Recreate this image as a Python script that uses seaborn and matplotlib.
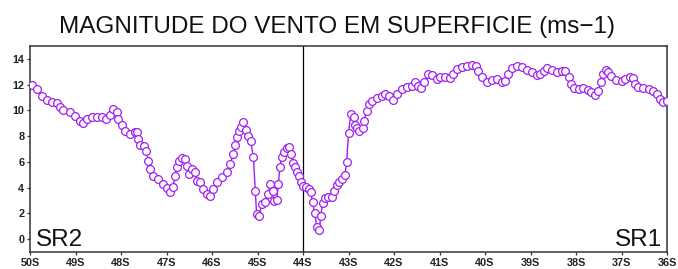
import matplotlib
matplotlib.use("Agg")
import matplotlib.pyplot as plt
from matplotlib import font_manager
import seaborn as sns
import pandas as pd

# ---- data ----
lat = [-49.96, -49.85, -49.74, -49.63, -49.52, -49.41, -49.34, -49.27, -49.12, -49.01,
       -48.90, -48.83, -48.74, -48.64, -48.53, -48.42, -48.33, -48.24, -48.17, -48.09,
       -48.06, -47.98, -47.91, -47.80, -47.69, -47.65, -47.62, -47.58, -47.49, -47.44,
       -47.40, -47.36, -47.29, -47.18, -47.07, -47.00, -46.92, -46.86, -46.81, -46.78,
       -46.72, -46.67, -46.59, -46.56, -46.50, -46.45, -46.37, -46.34, -46.26, -46.19,
       -46.12, -46.04, -45.97, -45.90, -45.79, -45.68, -45.60, -45.53, -45.49, -45.45,
       -45.41, -45.37, -45.31, -45.25, -45.20, -45.15, -45.09, -45.05, -45.02, -44.96,
       -44.91, -44.84, -44.76, -44.73, -44.67, -44.64, -44.58, -44.54, -44.51, -44.47,
       -44.42, -44.36, -44.30, -44.27, -44.22, -44.18, -44.14, -44.09, -44.05, -43.99,
       -43.93, -43.86, -43.83, -43.79, -43.74, -43.70, -43.64, -43.61, -43.57, -43.52,
       -43.44, -43.37, -43.31, -43.26, -43.20, -43.15, -43.08, -43.04, -43.00, -42.95,
       -42.89, -42.86, -42.81, -42.76, -42.69, -42.66, -42.60, -42.56, -42.49, -42.38,
       -42.27, -42.20, -42.12, -42.03, -41.94, -41.83, -41.72, -41.61, -41.54, -41.47,
       -41.41, -41.34, -41.25, -41.17, -41.06, -40.99, -40.88, -40.77, -40.70, -40.62,
       -40.51, -40.40, -40.29, -40.20, -40.15, -40.07, -39.96, -39.85, -39.74, -39.63,
       -39.56, -39.49, -39.41, -39.30, -39.19, -39.08, -38.97, -38.86, -38.79, -38.71,
       -38.64, -38.53, -38.42, -38.31, -38.24, -38.16, -38.11, -38.05, -37.94, -37.84,
       -37.73, -37.66, -37.58, -37.51, -37.46, -37.40, -37.35, -37.29, -37.22, -37.11,
       -37.00, -36.92, -36.81, -36.74, -36.70, -36.63, -36.52, -36.40, -36.30, -36.22,
       -36.15, -36.08, -36.00]

wind = [12.00, 11.66, 11.15, 10.80, 10.68, 10.55, 10.24, 10.03, 9.90, 9.59,
        9.20, 9.00, 9.33, 9.50, 9.46, 9.50, 9.33, 9.64, 10.10, 9.85,
        9.33, 8.87, 8.42, 8.16, 8.30, 8.30, 7.78, 7.31, 7.26, 6.82,
        6.09, 5.44, 4.92, 4.67, 4.28, 3.97, 3.68, 4.07, 4.87, 5.62,
        6.09, 6.30, 6.22, 5.70, 5.05, 5.44, 5.18, 4.53, 4.41, 3.89,
        3.50, 3.32, 3.89, 4.41, 4.80, 5.18, 5.83, 6.60, 7.30, 7.90,
        8.40, 8.70, 9.07, 8.50, 8.04, 7.65, 6.35, 3.76, 1.94, 1.81,
        2.72, 2.85, 3.50, 4.28, 3.76, 2.98, 3.03, 4.28, 5.57, 6.35,
        6.74, 7.05, 7.13, 6.61, 5.91, 5.57, 5.18, 4.87, 4.46, 4.10,
        4.02, 3.89, 3.63, 2.85, 2.02, 0.91, 0.72, 1.81, 2.80, 3.16,
        3.24, 3.29, 3.76, 4.20, 4.46, 4.67, 4.98, 6.01, 8.22, 9.72,
        9.46, 8.87, 8.60, 8.42, 8.60, 9.20, 9.98, 10.50, 10.75, 10.94,
        11.10, 11.27, 11.15, 10.80, 11.27, 11.66, 11.80, 11.92, 12.18, 11.92,
        11.72, 12.18, 12.83, 12.78, 12.44, 12.60, 12.62, 12.50, 12.83, 13.22,
        13.40, 13.48, 13.53, 13.48, 13.09, 12.57, 12.23, 12.39, 12.44, 12.23,
        12.31, 12.83, 13.27, 13.48, 13.35, 13.16, 12.96, 12.75, 12.83, 13.09,
        13.27, 13.14, 13.01, 13.04, 13.09, 12.57, 12.05, 11.72, 11.66, 11.72,
        11.61, 11.41, 11.20, 11.53, 12.18, 12.83, 13.14, 12.96, 12.70, 12.39,
        12.26, 12.44, 12.62, 12.50, 12.05, 11.80, 11.72, 11.66, 11.53, 11.27,
        10.89, 10.63, 10.70]

x_ticks = [-50, -49, -48, -47, -46, -45, -44, -43, -42, -41, -40, -39, -38, -37, -36]
x_labels = ["50S", "49S", "48S", "47S", "46S", "45S", "44S", "43S", "42S", "41S",
            "40S", "39S", "38S", "37S", "36S"]
y_ticks = [0, 2, 4, 6, 8, 10, 12, 14]
title = "MAGNITUDE DO VENTO EM SUPERFICIE (ms\u22121)"
divider_lat = -44
left_label = "SR2"
right_label = "SR1"

# ---- fonts ----
sns.set_style("white")
avail = {f.name for f in font_manager.fontManager.ttflist}
def pick(*names):
    for n in names:
        if n in avail:
            return n
    return "DejaVu Sans"
regular = pick("Liberation Sans", "DejaVu Sans")
plt.rcParams["font.family"] = [regular, "DejaVu Sans"]

color = "#a020f0"

fig = plt.figure(figsize=(6.78, 2.69), dpi=100)
ax = fig.add_axes([30 / 678, 17 / 269, 637 / 678, 206 / 269])

df = pd.DataFrame({"lat": lat, "wind": wind})
sns.lineplot(data=df, x="lat", y="wind", ax=ax, sort=False, color=color,
             linewidth=1.0, marker="o", markersize=5.6, markerfacecolor="white",
             markeredgecolor=color, markeredgewidth=0.9, zorder=3)

ax.axvline(divider_lat, color="black", linewidth=0.9, zorder=2)

ax.set_xlim(-50, -36)
ax.set_ylim(-1, 15)
ax.set_xticks(x_ticks)
ax.set_xticklabels(x_labels, fontweight="bold", fontsize=7.8, color="#222222")
ax.set_yticks(y_ticks)
ax.set_yticklabels([str(v) for v in y_ticks], fontweight="bold",
                   fontsize=7.8, color="#222222")
ax.set_xlabel("")
ax.set_ylabel("")
ax.tick_params(axis="both", which="major", direction="out", length=2.5, width=0.9,
               color="#333333", pad=1.5)
ax.tick_params(axis="x", bottom=True, top=False)
ax.tick_params(axis="y", left=True, right=False)
for s in ax.spines.values():
    s.set_visible(True)
    s.set_color("#333333")
    s.set_linewidth(1.1)

ax.text(0.009, 0.03, left_label, transform=ax.transAxes, fontsize=17.5,
        color="#111111", ha="left", va="baseline")
ax.text(0.992, 0.03, right_label, transform=ax.transAxes, fontsize=17.5,
        color="#111111", ha="right", va="baseline")

fig.text(0.497, 1 - 33 / 269, title, fontsize=17.5, color="#111111",
         ha="center", va="baseline")

fig.savefig("out.png", dpi=100)
